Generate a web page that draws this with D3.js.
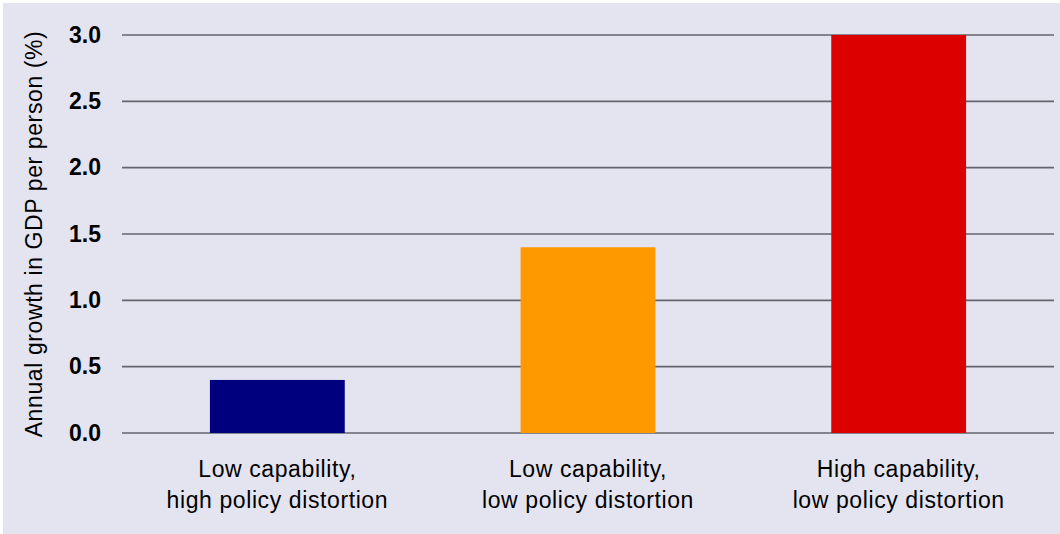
<!DOCTYPE html>
<html>
<head>
<meta charset="utf-8">
<script src="https://cdn.jsdelivr.net/npm/d3@7"></script>
<style>
  html, body { margin: 0; padding: 0; background: #fff; }
  svg { display: block; font-family: "Liberation Sans", Arial, sans-serif; }
</style>
</head>
<body>
<svg id="chart"></svg>
<script>
// values
const categories = [
  ["Low capability,", "high policy distortion"],
  ["Low capability,", "low policy distortion"],
  ["High capability,", "low policy distortion"]
];
const growth = [0.4, 1.4, 3.0];
const barColors = ["#00007f", "#ff9900", "#dd0000"];
const yTicks = [0, 0.5, 1.0, 1.5, 2.0, 2.5, 3.0];
const yTitle = "Annual growth in GDP per person (%)";

const width = 1060, height = 534;
const svg = d3.select("#chart").attr("width", width).attr("height", height);

// background panel
svg.append("rect")
  .attr("x", 3).attr("y", 3)
  .attr("width", width - 3).attr("height", height - 3)
  .attr("fill", "#e4e4f0");

const plotLeft = 122, plotRight = 1054, plotTop = 35, plotBottom = 433;

const x = d3.scaleBand()
  .domain(d3.range(categories.length))
  .range([plotLeft, plotRight])
  .paddingInner(0.566)
  .paddingOuter(0.283);

const y = d3.scaleLinear().domain([0, 3]).range([plotBottom, plotTop]);

// gridlines
svg.append("g")
  .selectAll("line")
  .data(yTicks)
  .join("line")
  .attr("x1", plotLeft).attr("x2", plotRight)
  .attr("y1", d => y(d)).attr("y2", d => y(d))
  .attr("stroke", "#64646e")
  .attr("stroke-width", 1.6);

// bars
svg.append("g")
  .selectAll("rect")
  .data(growth)
  .join("rect")
  .attr("x", (d, i) => x(i))
  .attr("width", x.bandwidth())
  .attr("y", d => y(d))
  .attr("height", d => y(0) - y(d))
  .attr("fill", (d, i) => barColors[i]);

// y tick labels
svg.append("g")
  .selectAll("text")
  .data(yTicks)
  .join("text")
  .attr("x", 101)
  .attr("y", d => y(d))
  .attr("dy", "0.33em")
  .attr("text-anchor", "end")
  .attr("font-size", 23)
  .attr("font-weight", "bold")
  .attr("fill", "#000")
  .text(d => d3.format(".1f")(d));

// y axis title
svg.append("text")
  .attr("transform", `translate(42,${(plotTop + plotBottom) / 2}) rotate(-90)`)
  .attr("text-anchor", "middle")
  .attr("font-size", 23)
  .attr("letter-spacing", 0.6)
  .attr("fill", "#000")
  .text(yTitle);

// category labels
const catLabels = svg.append("g")
  .selectAll("text")
  .data(categories)
  .join("text")
  .attr("x", (d, i) => x(i) + x.bandwidth() / 2)
  .attr("y", 477)
  .attr("text-anchor", "middle")
  .attr("font-size", 23)
  .attr("letter-spacing", 0.6)
  .attr("fill", "#000");

catLabels.selectAll("tspan")
  .data(d => d)
  .join("tspan")
  .attr("x", function () { return d3.select(this.parentNode).attr("x"); })
  .attr("dy", (d, i) => i === 0 ? 0 : 31)
  .text(d => d);
</script>
</body>
</html>
